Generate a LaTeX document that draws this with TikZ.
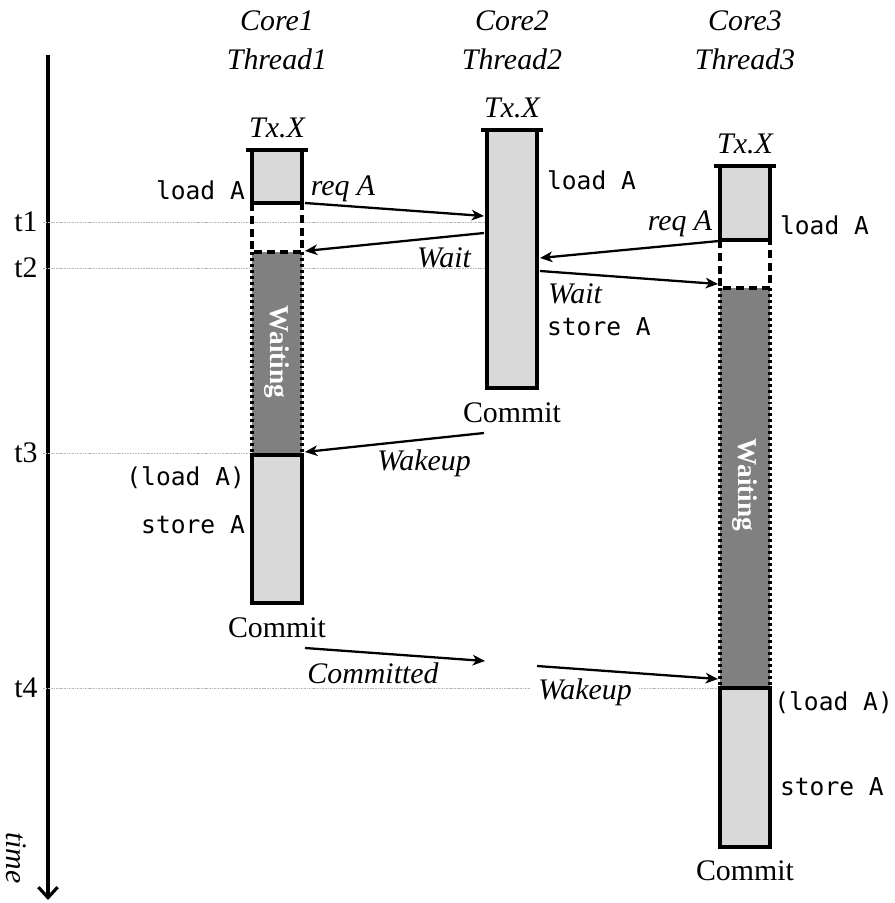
\documentclass[tikz,border=0pt]{standalone}
\usepackage{fontspec}
\setmainfont{Liberation Serif}
\setmonofont{DejaVu Sans Mono}
\usetikzlibrary{arrows.meta}
\tikzset{
  lbl/.style={font=\fontsize{17}{20}\selectfont\itshape, inner sep=1pt},
  rm/.style={font=\fontsize{17}{20}\selectfont, inner sep=1pt},
  op/.style={font=\fontsize{14}{17}\selectfont\ttfamily, inner sep=1pt},
  busy/.style={draw, line width=2pt, fill=black!15},
  sleep/.style={fill=black!50},
  waitside/.style={line width=2pt, dash pattern=on 4.5pt off 2.8pt},
  sleepside/.style={line width=2pt, dash pattern=on 1.7pt off 1.7pt},
  msg/.style={line width=1.3pt, -{Stealth[length=7pt,width=6pt,inset=2pt]}},
  tline/.style={gray!55, line width=0.4pt, dash pattern=on 1pt off 0.5pt},
  zzz/.style={font=\fontsize{15.5}{18}\selectfont\bfseries, text=white, rotate=-90},
}
\begin{document}
\begin{tikzpicture}[x=0.02cm,y=-0.02cm]
\useasboundingbox (0,0) rectangle (894,903);

% time axis and marks
\draw[line width=1.8pt,-{Straight Barb[length=6pt,width=11pt]}] (48,55) -- (48,900);
\node[lbl,rotate=-90] (time) at (16,858) {time};
\node[rm] (t1) at (26,222) {t1};
\node[rm] (t2) at (26,268) {t2};
\node[rm] (t3) at (26,453) {t3};
\node[rm] (t4) at (26,688) {t4};
\draw[tline] (43,222) -- (485,222);
\draw[tline] (43,268) -- (485,268);
\draw[tline] (43,453) -- (252,453);
\draw[tline] (43,688) -- (720,688);

% Core1 / Thread1
\node[lbl,align=center] (core1) at (277,40) {Core1\\[2pt]Thread1};
\node[lbl] (tx1) at (277,128) {Tx.X};
\fill[sleep] (252,252) rectangle (302,455);
\draw[sleepside] (252,252) -- (252,455) (302,252) -- (302,455);
\draw[waitside] (252,203) -- (252,252) -- (302,252) -- (302,203);
\draw[busy] (252,150) rectangle (302,203);
\draw[busy] (252,455) rectangle (302,603);
\draw[line width=2.4pt] (246,150) -- (308,150);
\node[zzz] (zzz1) at (277,352) {Waiting};
\node[op,anchor=east] (ld1) at (247,190) {load A};
\node[op,anchor=east] (rld1) at (247,478) {(load A)};
\node[op,anchor=east] (st1) at (247,525) {store A};
\node[rm] (cm1) at (277,628) {Commit};

% Core2 / Thread2
\node[lbl,align=center] (core2) at (512,40) {Core2\\[2pt]Thread2};
\node[lbl] (tx2) at (512,108) {Tx.X};
\draw[busy] (487,130) rectangle (537,388);
\draw[line width=2.4pt] (481,130) -- (543,130);
\node[op,anchor=west] (ld2) at (545,180) {load A};
\node[op,anchor=west] (st2) at (545,327) {store A};
\node[rm] (cm2) at (512,413) {Commit};

% Core3 / Thread3
\node[lbl,align=center] (core3) at (745,40) {Core3\\[2pt]Thread3};
\node[lbl] (tx3) at (745,144) {Tx.X};
\fill[sleep] (720,288) rectangle (770,688);
\draw[sleepside] (720,288) -- (720,688) (770,288) -- (770,688);
\draw[waitside] (720,240) -- (720,288) -- (770,288) -- (770,240);
\draw[busy] (720,166) rectangle (770,240);
\draw[busy] (720,688) rectangle (770,847);
\draw[line width=2.4pt] (714,166) -- (776,166);
\node[zzz] (zzz3) at (745,485) {Waiting};
\node[op,anchor=west] (ld3) at (778,225) {load A};
\node[op,anchor=west,inner sep=0pt] (rld3) at (774,703) {(load A)};
\node[op,anchor=west] (st3) at (778,787) {store A};
\node[rm] (cm3) at (745,871) {Commit};

% message labels (the last one blanks out the t4 line)
\node[lbl] (rq1) at (343,189) {req A};
\node[lbl] (wt1) at (444,258) {Wait};
\node[lbl] (rq3) at (680,224) {req A};
\node[lbl] (wt3) at (575,294) {Wait};
\node[lbl] (wk1) at (424,463) {Wakeup};
\node[lbl] (cmt) at (373,673) {Committed};
\node[lbl,fill=white,inner sep=4pt] (wk3) at (585,692) {Wakeup};

% messages
\coordinate (rq1a) at (305,203);  \coordinate (rq1b) at (484,216);
\coordinate (wt1a) at (484,233);  \coordinate (wt1b) at (305,251);
\coordinate (rq3a) at (719,241);  \coordinate (rq3b) at (540,258);
\coordinate (wt3a) at (540,271);  \coordinate (wt3b) at (718,284);
\coordinate (wk1a) at (484,433);  \coordinate (wk1b) at (305,452);
\coordinate (cmta) at (305,648);  \coordinate (cmtb) at (485,661);
\coordinate (wk3a) at (537,666);  \coordinate (wk3b) at (718,679);
\draw[msg] (rq1a) -- (rq1b);
\draw[msg] (wt1a) -- (wt1b);
\draw[msg] (rq3a) -- (rq3b);
\draw[msg] (wt3a) -- (wt3b);
\draw[msg] (wk1a) -- (wk1b);
\draw[msg] (cmta) -- (cmtb);
\draw[msg] (wk3a) -- (wk3b);
\end{tikzpicture}
\end{document}
